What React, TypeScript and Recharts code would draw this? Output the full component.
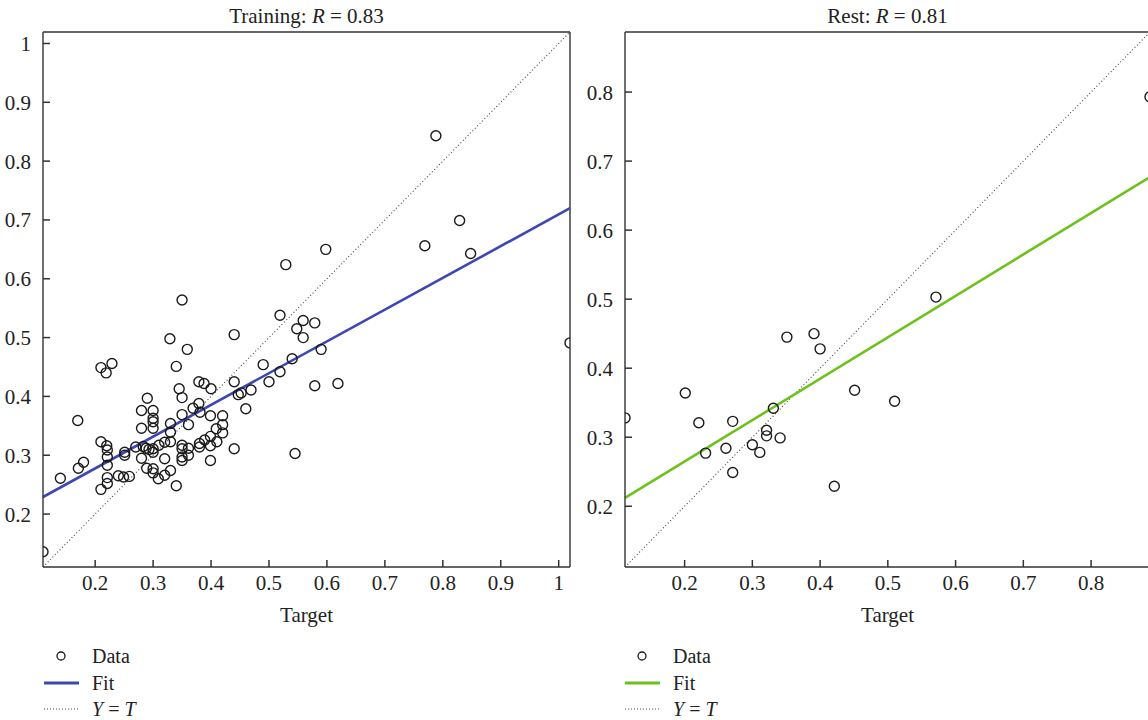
import React from 'react';
import { ScatterChart, Scatter, XAxis, YAxis, ReferenceLine } from 'recharts';

// Training panel: target (x) and network output (y)
const trainTarget = [
  0.788, 0.829, 0.769, 0.848, 0.598, 0.529, 0.35, 0.519, 0.559, 0.548, 0.579, 0.559, 0.44, 0.329,
  0.359, 0.21, 0.219, 0.229, 0.34, 0.49, 0.54, 0.519, 0.59, 0.5, 0.579, 0.619, 0.44, 0.469, 0.447,
  0.452, 0.379, 0.388, 0.4, 0.345, 0.35, 0.29, 1.0195, 0.11,
  0.14, 0.17, 0.171, 0.18, 0.21, 0.21, 0.22, 0.221, 0.221, 0.221, 0.221, 0.221, 0.251, 0.251, 0.24,
  0.249, 0.259, 0.27, 0.28, 0.28, 0.28, 0.283, 0.288, 0.293, 0.3, 0.3, 0.3, 0.3, 0.3, 0.3, 0.289,
  0.3, 0.3, 0.309, 0.31, 0.32, 0.32, 0.32, 0.33, 0.33, 0.33, 0.33, 0.34, 0.35, 0.35, 0.35, 0.35,
  0.35, 0.361, 0.361, 0.361, 0.369, 0.379, 0.381, 0.38, 0.38, 0.389, 0.399, 0.399, 0.399, 0.399,
  0.409, 0.41, 0.42, 0.42, 0.42, 0.44, 0.46, 0.545,
];
const trainOutput = [
  0.843, 0.699, 0.656, 0.643, 0.65, 0.624, 0.564, 0.538, 0.529, 0.515, 0.525, 0.5, 0.505, 0.498,
  0.48, 0.449, 0.44, 0.456, 0.451, 0.454, 0.464, 0.442, 0.48, 0.425, 0.418, 0.422, 0.425, 0.411,
  0.403, 0.406, 0.425, 0.422, 0.413, 0.413, 0.398, 0.397, 0.491, 0.136,
  0.261, 0.359, 0.278, 0.288, 0.323, 0.242, 0.316, 0.309, 0.297, 0.283, 0.262, 0.252, 0.305, 0.3,
  0.265, 0.263, 0.264, 0.314, 0.376, 0.346, 0.295, 0.315, 0.312, 0.31, 0.376, 0.363, 0.357, 0.346,
  0.311, 0.305, 0.278, 0.277, 0.27, 0.26, 0.317, 0.294, 0.322, 0.266, 0.354, 0.339, 0.323, 0.274,
  0.248, 0.369, 0.317, 0.311, 0.297, 0.291, 0.352, 0.312, 0.3, 0.38, 0.388, 0.373, 0.32, 0.314,
  0.326, 0.367, 0.332, 0.316, 0.291, 0.345, 0.323, 0.367, 0.352, 0.338, 0.311, 0.379, 0.303,
];

// Rest panel
const restTarget = [
  0.112, 0.201, 0.221, 0.231, 0.261, 0.271, 0.271, 0.3, 0.311, 0.321, 0.321, 0.331, 0.341, 0.351,
  0.391, 0.4, 0.421, 0.451, 0.51, 0.571, 0.887,
];
const restOutput = [
  0.328, 0.364, 0.321, 0.277, 0.284, 0.323, 0.249, 0.289, 0.278, 0.31, 0.302, 0.342, 0.299, 0.445,
  0.45, 0.428, 0.229, 0.368, 0.352, 0.503, 0.793,
];

// Fit line end points
const trainFit = [{ x: 0.11, y: 0.229 }, { x: 1.0195, y: 0.72 }];
const restFit = [{ x: 0.112, y: 0.212 }, { x: 0.887, y: 0.677 }];

const trainLimits: [number, number] = [0.11, 1.0195];
const restLimits: [number, number] = [0.112, 0.887];
const trainTicks = [0.2, 0.3, 0.4, 0.5, 0.6, 0.7, 0.8, 0.9, 1];
const restTicks = [0.2, 0.3, 0.4, 0.5, 0.6, 0.7, 0.8];

const FONT = '"Liberation Serif", "Times New Roman", serif';
const FRAME = '#333';
const BLUE = '#3d46b2';
const GREEN = '#6cc21a';
const FONT_SIZE = 21;
const X_GAP = 8;
const Y_GAP = 12;
const TICK_LEN = 7;

const ring = (p: any) => (
  <circle cx={p.cx} cy={p.cy} r={5} fill="none" stroke="#1a1a1a" strokeWidth={1.4} />
);

// tick label plus a short tick pointing into the plot, MATLAB style
const XTick = (p: any) => (
  <g>
    <line x1={p.x} x2={p.x} y1={p.y - X_GAP} y2={p.y - X_GAP - TICK_LEN} stroke={FRAME} strokeWidth={1.5} />
    <text x={p.x} y={p.y} dy="0.71em" textAnchor="middle" fill="#222" fontSize={FONT_SIZE} fontFamily={FONT}>
      {String(p.payload.value)}
    </text>
  </g>
);
const YTick = (p: any) => (
  <g>
    <line x1={p.x + Y_GAP} x2={p.x + Y_GAP + TICK_LEN} y1={p.y} y2={p.y} stroke={FRAME} strokeWidth={1.5} />
    <text x={p.x} y={p.y} dy="0.355em" textAnchor="end" fill="#222" fontSize={FONT_SIZE} fontFamily={FONT}>
      {String(p.payload.value)}
    </text>
  </g>
);

interface PanelProps {
  left: number;
  width: number;
  target: number[];
  output: number[];
  fit: { x: number; y: number }[];
  limits: [number, number];
  ticks: number[];
  color: string;
}

function Panel({ left, width, target, output, fit, limits, ticks, color }: PanelProps) {
  const data = target.map((x, i) => ({ x, y: output[i] }));
  const [lo, hi] = limits;
  return (
    <div style={{ position: 'absolute', left, top: 0, fontFamily: FONT }}>
      <ScatterChart width={width} height={650} margin={{ top: 32, right: 20, bottom: 0, left: 0 }}>
        <XAxis
          type="number"
          dataKey="x"
          domain={limits}
          ticks={ticks}
          allowDataOverflow
          height={83}
          tickLine={false}
          tickSize={0}
          tickMargin={X_GAP}
          stroke={FRAME}
          strokeWidth={1.4}
          tick={<XTick />}
          label={{ value: 'Target', position: 'insideBottom', offset: 28, fill: '#222', fontSize: FONT_SIZE, fontFamily: FONT }}
        />
        <YAxis
          type="number"
          dataKey="y"
          domain={limits}
          ticks={ticks}
          allowDataOverflow
          width={43}
          tickLine={false}
          tickSize={0}
          tickMargin={Y_GAP}
          stroke={FRAME}
          strokeWidth={1.4}
          tick={<YTick />}
        />
        {/* top and right edges of the box */}
        <ReferenceLine y={hi} stroke={FRAME} strokeWidth={1.4} ifOverflow="visible" />
        <ReferenceLine x={hi} stroke={FRAME} strokeWidth={1.4} ifOverflow="visible" />
        <ReferenceLine
          segment={[{ x: lo, y: lo }, { x: hi, y: hi }]}
          stroke="#444"
          strokeWidth={1.1}
          strokeDasharray="1 2.4"
          ifOverflow="visible"
        />
        <ReferenceLine segment={fit} stroke={color} strokeWidth={2.6} ifOverflow="visible" />
        <Scatter data={data} shape={ring} isAnimationActive={false} />
      </ScatterChart>
    </div>
  );
}

function LegendBlock({ x, color }: { x: number; color: string }) {
  const textX = x + 48;
  const t = { fontFamily: FONT, fontSize: 20, fill: '#222' };
  return (
    <g>
      <circle cx={x + 17} cy={656} r={4} fill="none" stroke="#1a1a1a" strokeWidth={1.3} />
      <text x={textX} y={663} {...t}>Data</text>
      <line x1={x} x2={x + 35} y1={683} y2={683} stroke={color} strokeWidth={2.8} />
      <text x={textX} y={690} {...t}>Fit</text>
      <line x1={x} x2={x + 35} y1={709} y2={709} stroke="#444" strokeWidth={1.1} strokeDasharray="1 2" />
      <text x={textX} y={716} {...t}>
        <tspan fontStyle="italic">Y</tspan> = <tspan fontStyle="italic">T</tspan>
      </text>
    </g>
  );
}

export default function App() {
  const titleStyle = { fontFamily: FONT, fontSize: FONT_SIZE, fill: '#222' };
  return (
    <div style={{ position: 'absolute', left: 0, top: 0, width: 1148, height: 720, overflow: 'hidden', background: '#fff', fontFamily: FONT }}>
      <Panel left={0} width={590} target={trainTarget} output={trainOutput} fit={trainFit} limits={trainLimits} ticks={trainTicks} color={BLUE} />
      <Panel left={582} width={588} target={restTarget} output={restOutput} fit={restFit} limits={restLimits} ticks={restTicks} color={GREEN} />
      <svg width={1148} height={720} style={{ position: 'absolute', left: 0, top: 0, pointerEvents: 'none' }}>
        <text x={306.5} y={23} textAnchor="middle" {...titleStyle}>
          Training: <tspan fontStyle="italic">R</tspan> = 0.83
        </text>
        <text x={887.5} y={23} textAnchor="middle" {...titleStyle}>
          Rest: <tspan fontStyle="italic">R</tspan> = 0.81
        </text>
        <LegendBlock x={44} color={BLUE} />
        <LegendBlock x={625} color={GREEN} />
      </svg>
    </div>
  );
}
